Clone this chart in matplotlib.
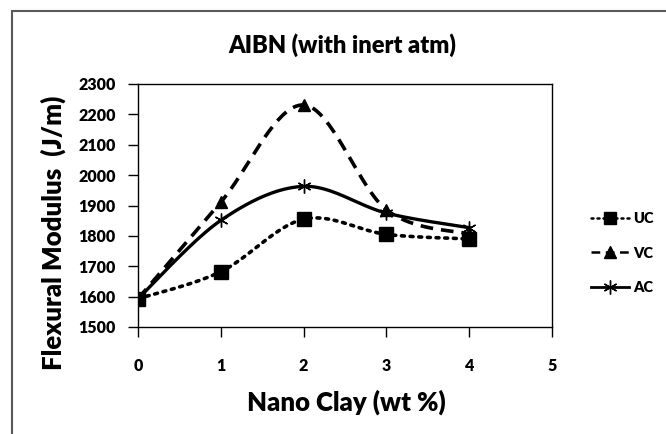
import numpy as np
import matplotlib
matplotlib.use("Agg")
import matplotlib.pyplot as plt
from matplotlib.patches import Rectangle
from matplotlib.lines import Line2D

plt.rcParams['font.family'] = ['Lato', 'DejaVu Sans']

x = [0, 1, 2, 3, 4]
uc = [1593, 1682, 1855, 1805, 1790]
vc = [1593, 1911, 2231, 1886, 1806]
ac = [1593, 1851, 1963, 1875, 1827]
series_names = ['UC', 'VC', 'AC']
title = 'AIBN (with inert atm)'
xlabel = 'Nano Clay (wt %)'
ylabel = 'Flexural Modulus  (J/m)'


def smooth(xs, ys, n=40):
    # Excel-like smooth line: Catmull-Rom cubic Bezier segments
    xs = np.asarray(xs, float)
    ys = np.asarray(ys, float)
    px, py = [], []
    m = len(xs)
    for i in range(m - 1):
        p0 = np.array([xs[max(i - 1, 0)], ys[max(i - 1, 0)]])
        p1 = np.array([xs[i], ys[i]])
        p2 = np.array([xs[i + 1], ys[i + 1]])
        p3 = np.array([xs[min(i + 2, m - 1)], ys[min(i + 2, m - 1)]])
        c1 = p1 + (p2 - p0) / 6.0
        c2 = p2 - (p3 - p1) / 6.0
        t = np.linspace(0, 1, n)[:, None]
        b = ((1 - t) ** 3) * p1 + 3 * ((1 - t) ** 2) * t * c1 + 3 * (1 - t) * t ** 2 * c2 + t ** 3 * p2
        px.extend(b[:, 0]); py.extend(b[:, 1])
    return np.array(px), np.array(py)


fig = plt.figure(figsize=(6.66, 4.34), dpi=100)
fig.patch.set_facecolor('white')
W, H = 666, 434
ax = fig.add_axes([138 / W, 1 - 327 / H, (552 - 138) / W, (327 - 84) / H])

# outer chart frame
fig.add_artist(Rectangle((12 / W, -0.1), 1.2, 1 - 11 / H + 0.1, transform=fig.transFigure,
                         fill=False, edgecolor='#595959', linewidth=1.5))

styles = [
    dict(ls=(0, (0.8, 1.6)), marker='s', ms=10, lw=2.6),
    dict(ls=(0, (3.5, 2.2)), marker='^', ms=9, lw=2.6),
    dict(ls='-', marker='x', ms=10, lw=2.4),
]
handles = []
for ys, name, st in zip([uc, vc, ac], series_names, styles):
    sx, sy = smooth(x, ys)
    ax.plot(sx, sy, color='black', linestyle=st['ls'], lw=st['lw'], zorder=2,
            dash_capstyle='round' if name == 'UC' else 'butt')
    if st['marker'] == 'x':
        ax.plot(x, ys, linestyle='none', marker=(6, 2, 0), ms=st['ms'], mew=1.0, color='black', zorder=3)
        h = Line2D([], [], color='black', ls=st['ls'], lw=2, marker=(6, 2, 0), ms=10, mew=1.0)
    else:
        ax.plot(x, ys, linestyle='none', marker=st['marker'], ms=st['ms'], color='black', zorder=3)
        h = Line2D([], [], color='black', ls=st['ls'], lw=1.8, marker=st['marker'], ms=8,
                   dash_capstyle='round' if name == 'UC' else 'butt')
    handles.append(h)

ax.set_xlim(0, 5)
ax.set_ylim(1500, 2300)
ax.set_xticks(range(0, 6))
ax.set_yticks(range(1500, 2301, 100))
ax.tick_params(direction='out', length=7, width=1, labelsize=11.5, pad=10)
for lab in ax.get_xticklabels() + ax.get_yticklabels():
    lab.set_fontweight('heavy')
ax.tick_params(axis='x', pad=15)
ax.tick_params(axis='y', pad=9)
for sp in ax.spines.values():
    sp.set_linewidth(1.0)
    sp.set_color('black')

fig.text(342 / W, 1 - 45 / H, title, ha='center', va='center',
         fontsize=17, fontweight='heavy')
fig.text(346 / W, 1 - 402 / H, xlabel, ha='center', va='center', fontsize=18.5, fontweight='heavy')
fig.text(53 / W, 1 - 233 / H, ylabel, ha='center', va='center', rotation=90,
         fontsize=18.5, fontweight='heavy')

leg = fig.legend(handles, series_names, loc='center left', bbox_to_anchor=(578 / W, 1 - 253 / H),
                 frameon=False, handlelength=2.6, handletextpad=0.3, labelspacing=1.5,
                 prop=dict(weight='heavy', size=10.5))

fig.savefig('out.png', dpi=100)
